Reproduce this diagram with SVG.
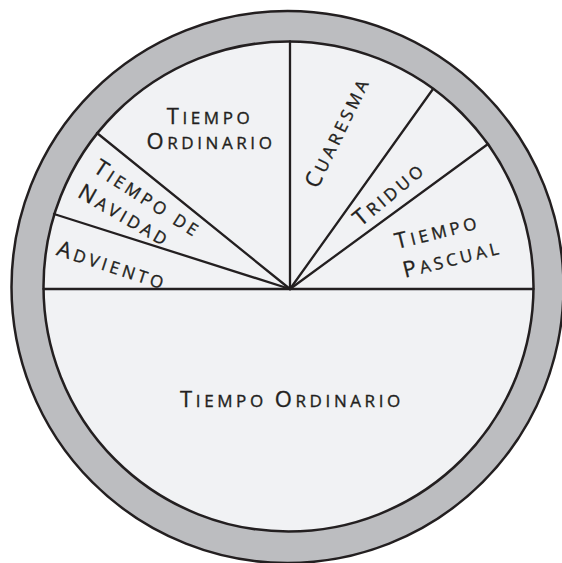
<svg xmlns="http://www.w3.org/2000/svg" width="562" height="563" viewBox="0 0 562 563">
<style>
.ring{fill:#bcbdc0;stroke:#231f20;stroke-width:2.5}
.face{fill:#f1f2f4;stroke:#231f20;stroke-width:2.5}
.div{stroke:#231f20;stroke-width:2.3;fill:none;stroke-linecap:round}
text{font-family:"Open Sans","Liberation Sans",sans-serif;font-size:17px;fill:#231f20;stroke:#231f20;stroke-width:0.35;letter-spacing:3.6px;text-anchor:middle}
.c{font-size:22px}
</style>
<rect width="562" height="563" fill="#ffffff"/>
<g id="ring">
<circle class="ring" cx="287.5" cy="287" r="276"/>
<circle class="face" cx="288.5" cy="286.5" r="245"/>
</g>
<g id="connectors">
<line class="div" x1="43.5" y1="289" x2="533.5" y2="289"/>
<line class="div" x1="290" y1="289" x2="290" y2="41.5"/>
<line class="div" x1="290" y1="289" x2="97" y2="133"/>
<line class="div" x1="290" y1="289" x2="54" y2="214"/>
<line class="div" x1="290" y1="289" x2="433" y2="89"/>
<line class="div" x1="290" y1="289" x2="488" y2="144"/>
</g>
<g id="tiempo-ordinario-1">
<text x="210" y="124"><tspan class="c">T</tspan>IEMPO</text>
<text x="211" y="149"><tspan class="c">O</tspan>RDINARIO</text>
</g>
<g id="tiempo-navidad">
<text transform="translate(144,205) rotate(33)"><tspan class="c">T</tspan>IEMPO DE</text>
<text transform="translate(121,222) rotate(30)"><tspan class="c">N</tspan>AVIDAD</text>
</g>
<g id="adviento">
<text transform="translate(110,272.5) rotate(18)"><tspan class="c">A</tspan>DVIENTO</text>
</g>
<g id="cuaresma">
<text transform="translate(344,135) rotate(-64)"><tspan class="c">C</tspan>UARESMA</text>
</g>
<g id="triduo">
<text transform="translate(394,199) rotate(-40)"><tspan class="c">T</tspan>RIDUO</text>
</g>
<g id="tiempo-pascual">
<text transform="translate(439,238.5) rotate(-14)"><tspan class="c">T</tspan>IEMPO</text>
<text transform="translate(454,265.5) rotate(-14)"><tspan class="c">P</tspan>ASCUAL</text>
</g>
<g id="tiempo-ordinario-2">
<text x="292" y="407"><tspan class="c">T</tspan>IEMPO <tspan class="c">O</tspan>RDINARIO</text>
</g>
</svg>
